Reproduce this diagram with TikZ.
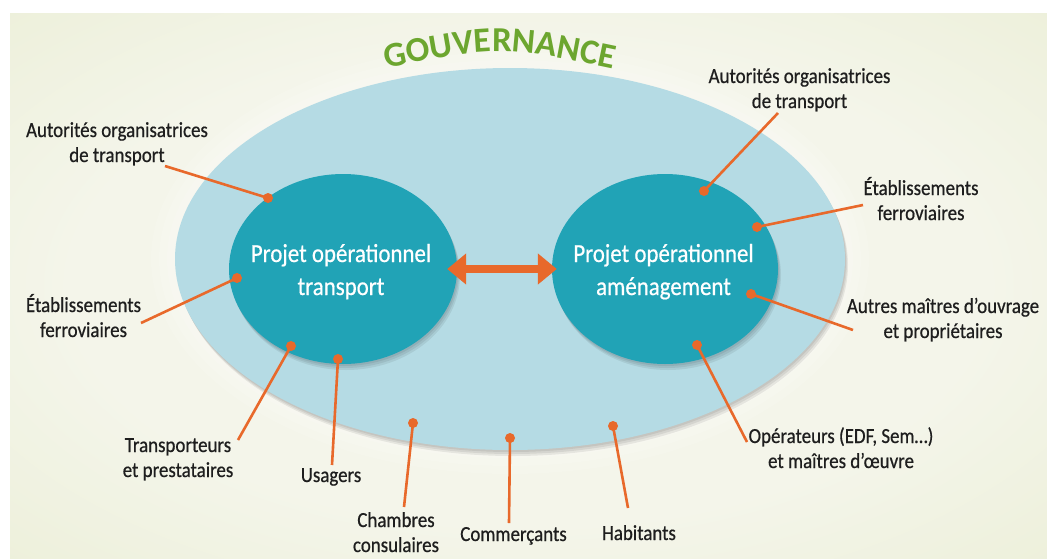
\documentclass[tikz,border=0pt]{standalone}
\usepackage{fontspec}
\setmainfont{Carlito}
\newfontfamily\condfont[FakeStretch=0.88,FakeBold=0.6]{Carlito}
\usetikzlibrary{shapes.geometric,arrows.meta,decorations.text}
\definecolor{bgin}{HTML}{F4F5EA}
\definecolor{bgmid}{HTML}{E6EBCB}
\definecolor{bgout}{HTML}{D2DEA6}
\definecolor{orng}{HTML}{E8692B}
\definecolor{teal}{HTML}{21A3B6}
\definecolor{lblue}{HTML}{B5DBE4}
\definecolor{gov}{HTML}{6CA62F}
\definecolor{ink}{HTML}{1E1E1E}
\pgfdeclareradialshading{bgshade}{\pgfpoint{0bp}{0bp}}{color(0bp)=(bgin); color(22bp)=(bgin); color(50bp)=(bgmid); color(71bp)=(bgout)}
\begin{document}
\begin{tikzpicture}[x=1pt,y=-1pt,
  outer/.style={ellipse, fill=lblue, minimum width=670pt, minimum height=382pt, inner sep=0pt},
  inner/.style={ellipse, fill=teal, minimum width=228pt, minimum height=190pt, inner sep=0pt},
  intext/.style={font=\condfont\fontsize{26}{33}\selectfont, text=white, align=center, text height=14pt, text depth=5pt, inner sep=0pt},
  lbl/.style={font=\condfont\fontsize{21.5}{25}\selectfont, text=ink, align=center, text height=12pt, text depth=4pt, inner sep=0pt},
  dot/.style={circle, fill=orng, minimum size=10pt, inner sep=0pt},
  link/.style={draw=orng, line width=2.6pt},
  bigarrow/.style={draw=orng, line width=8pt, {Triangle[length=19pt,width=30pt]}-{Triangle[length=19pt,width=30pt]}}
]
\useasboundingbox (0,0) rectangle (1047,558);
\fill[white] (0,0) rectangle (1047,558);
\shade[shading=bgshade] (10,13) rectangle (1047,558);

% glow and shadow of the governance ellipse
\foreach \r in {24,16,8} {
  \fill[white, opacity=0.12] (510,259) ellipse [x radius={335pt+\r pt}, y radius={191pt+\r pt}];
}
\foreach \s in {2,4,6} {
  \fill[black, opacity=0.07] (510+\s*0.5,259+\s) ellipse [x radius=335pt, y radius=191pt];
}
\node[outer] (G) at (510,259) {};

% governance title
\path[decorate, decoration={text along path, text align=center, text color=gov,
  text={|\fontsize{35}{35}\bfseries|GOUVERNANCE}}] (368,72.5) .. controls (500,44.5) .. (632,72.5);

% inner ellipse shadows
\foreach \s in {2,4,6} {
  \fill[black, opacity=0.07] (343+\s*0.5,269+\s) ellipse [x radius=114pt, y radius=95pt];
  \fill[black, opacity=0.07] (665+\s*0.5,269+\s) ellipse [x radius=113pt, y radius=95pt];
}
\node[inner] (T) at (343,269) {};
\node[inner, minimum width=226pt] (A) at (665,269) {};
\node[intext] (Tt) at (341,290.5) {Projet opérationnel\\transport};
\node[intext] (At) at (663.5,290.5) {Projet opérationnel\\aménagement};

\draw[bigarrow, shorten <=-10pt, shorten >=-5pt] (T.east) -- (A.west);

% labels
\node[lbl] (L1) at (117,158) {Autorités organisatrices\\de transport};
\node[lbl] (L2) at (799.5,104) {Autorités organisatrices\\de transport};
\node[lbl] (L3) at (921,216) {Établissements\\ferroviaires};
\node[lbl] (L4) at (83.5,333) {Établissements\\ferroviaires};
\node[lbl] (L5) at (943,334) {Autres maîtres d’ouvrage\\et propriétaires};
\node[lbl] (L6) at (841,464) {Opérateurs (EDF, Sem…)\\et maîtres d’œuvre};
\node[lbl] (L7) at (178,473) {Transporteurs\\et prestataires};
\node[lbl] (L8) at (331,478) {Usagers};
\node[lbl] (L9) at (396,548) {Chambres\\consulaires};
\node[lbl] (L10) at (513.5,537) {Commerçants};
\node[lbl] (L11) at (639,536) {Habitants};

% connector ends
\coordinate (c1) at (165,166);
\coordinate (c2) at (778,113);
\coordinate (c3) at (863,205);
\coordinate (c4) at (141,323);
\coordinate (c5) at (853,330);
\coordinate (c6) at (747,442);
\coordinate (c7) at (238,440);
\coordinate (c8) at (332,465);
\coordinate (c9) at (404,507);
\coordinate (c10) at (509,523);
\coordinate (c11) at (628,508);

% dots
\node[dot] (d1) at (268,198) {};
\node[dot] (d2) at (704,191) {};
\node[dot] (d3) at (757,227) {};
\node[dot] (d4) at (237,278) {};
\node[dot] (d5) at (751,294) {};
\node[dot] (d6) at (697,345) {};
\node[dot] (d7) at (291,346) {};
\node[dot] (d8) at (338,359) {};
\node[dot] (d9) at (413,423) {};
\node[dot] (d10) at (510,438) {};
\node[dot] (d11) at (613,426) {};

\foreach \i in {1,...,11} {
  \draw[link] (d\i.center) -- (c\i);
}
\end{tikzpicture}
\end{document}
